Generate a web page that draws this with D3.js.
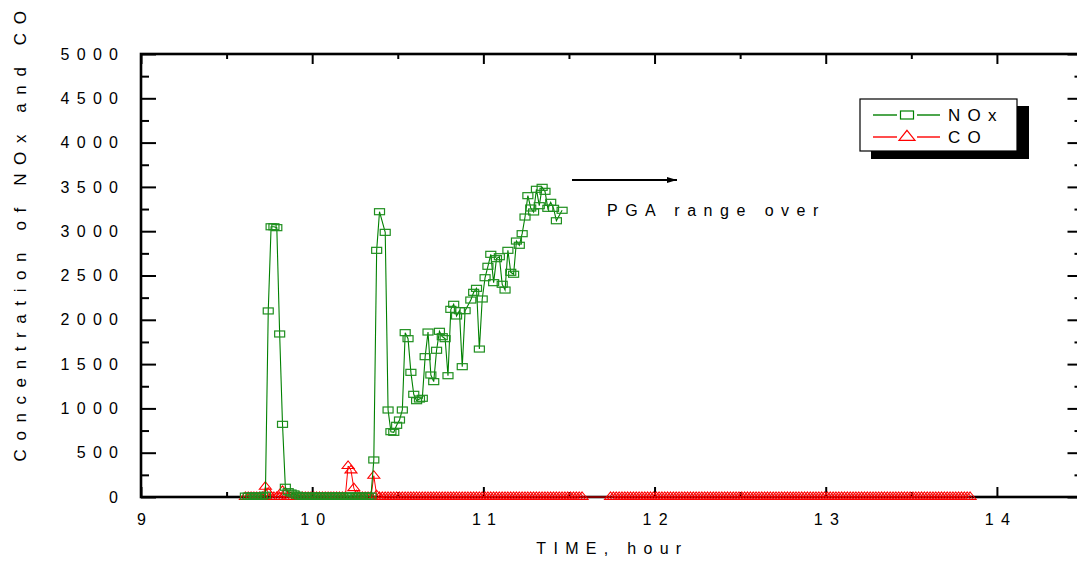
<!DOCTYPE html>
<html><head><meta charset="utf-8">
<script src="https://cdn.jsdelivr.net/npm/d3@7"></script>
<style>
body{margin:0;background:#fff}
svg{display:block}
text{font-family:"Liberation Sans",Arial,sans-serif;fill:#000}
</style>
</head><body>
<svg id="chart" width="1077" height="561"></svg>
<script>
// ---- data ----
const sampleStartHour = 9.61;          // first logged sample (hour)
const sampleStepHour = 1 / 60;         // one sample per minute
const xMajorTicks = [9, 10, 11, 12, 13, 14];
const xMinorTicks = [9.5, 10.5, 11.5, 12.5, 13.5, 14.5];
const yMajorTicks = [0, 500, 1000, 1500, 2000, 2500, 3000, 3500, 4000, 4500, 5000];
const yMinorTicks = [250, 750, 1250, 1750, 2250, 2750, 3250, 3750, 4250, 4750];
const seriesNames = ["NOx", "CO"];
// NOx concentration per sample (null = no sample logged)
const noxValues = [
  10, 10, 10, 10, 10, 10, 10, 20, 2100, 3050,
  3050, 3040, 1840, 820, 110, 60, 45, 35, 20, 10,
  10, 10, 10, 10, 10, 10, 10, 10, 10, 10,
  10, 10, 10, 10, 10, 10, 10, 10, 10, 10,
  10, 10, 10, 10, 10, 418, 2784, 3220, null, 2987,
  982, 737, 730, 809, 869, 982, 1855, 1787, 1407, 1159,
  1087, 1106, 1114, 1584, 1862, 1377, 1302, 1656, 1870, 1809,
  1787, 1369, 2118, 2175, 2043, 2103, 1471, 2103, null, 2223,
  2310, 2355, 1670, 2235, 2475, 2604, 2739, 2419, 2690, 2712,
  2401, 2336, 2784, 2536, 2514, 2889, 2841, 2972, 3160, 3401,
  3262, 3217, 3473, 3288, 3495, 3450, 3258, 3326, 3258, 3118,
  null, 3236
];
// CO concentration per sample (null = no sample logged)
const coValues = [
  0, 0, 0, 0, 0, 0, 0, 116, 48, 0, 0, 0, 0, 70, 30, 0, 0, 0, 0, 0,
  0, 0, 0, 0, 0, 0, 0, 0, 0, 0, 0, 0, 0, 0, 0, 0, 350, 300, 100, 20,
  0, 0, 0, 0, 0, 240, 20, 0, 0, 0, 0, 0, 0, 0, 0, 0, 0, 0, 0, 0,
  0, 0, 0, 0, 0, 0, 0, 0, 0, 0, 0, 0, 0, 0, 0, 0, 0, 0, 0, 0,
  0, 0, 0, 0, 0, 0, 0, 0, 0, 0, 0, 0, 0, 0, 0, 0, 0, 0, 0, 0,
  0, 0, 0, 0, 0, 0, 0, 0, 0, 0, 0, 0, 0, 0, 0, 0, 0, 0, 0, null,
  null, null, null, null, null, null, null, null, 0, 0, 0, 0, 0, 0, 0, 0, 0, 0, 0, 0,
  0, 0, 0, 0, 0, 0, 0, 0, 0, 0, 0, 0, 0, 0, 0, 0, 0, 0, 0, 0,
  0, 0, 0, 0, 0, 0, 0, 0, 0, 0, 0, 0, 0, 0, 0, 0, 0, 0, 0, 0,
  0, 0, 0, 0, 0, 0, 0, 0, 0, 0, 0, 0, 0, 0, 0, 0, 0, 0, 0, 0,
  0, 0, 0, 0, 0, 0, 0, 0, 0, 0, 0, 0, 0, 0, 0, 0, 0, 0, 0, 0,
  0, 0, 0, 0, 0, 0, 0, 0, 0, 0, 0, 0, 0, 0, 0, 0, 0, 0, 0, 0,
  0, 0, 0, 0, 0, 0, 0, 0, 0, 0, 0, 0, 0, 0, 0
];
const annotationText = "PGA range over";
const xTitle = "TIME, hour";
const yTitle = "Concentration of NOx and CO";

// ---- layout ----
const L = 141, R = 1082.5, T = 54, B = 497;
const svg = d3.select("#chart");
const x = d3.scaleLinear().domain([9, 14.5]).range([L, R]);
const y = d3.scaleLinear().domain([0, 5000]).range([B, T]);
const GREEN = "#008000", RED = "#ff0000";
const LS = 7.3; // letter spacing
const fmt = d3.format("d");

function toPoints(vals) {
  return vals.map((v, i) => ({ t: sampleStartHour + i * sampleStepHour, v }))
             .filter(d => d.v !== null);
}

// ---- axes (ticks inward) ----
function styleAxis(g) {
  g.select(".domain").remove();
  g.selectAll(".tick line").attr("stroke", "#000").attr("stroke-width", 2);
}
svg.append("g").attr("transform", `translate(0,${B})`)
  .call(d3.axisBottom(x).tickValues(xMajorTicks).tickFormat(fmt).tickSizeInner(-10).tickSizeOuter(0).tickPadding(17))
  .call(styleAxis)
  .call(g => g.selectAll("text").attr("font-size", 16).attr("letter-spacing", LS)
      .attr("dx", LS / 2).attr("font-family", "Liberation Sans, Arial, sans-serif"));
svg.append("g").attr("transform", `translate(0,${B})`)
  .call(d3.axisBottom(x).tickValues(xMinorTicks).tickSize(-5).tickFormat(""))
  .call(styleAxis);
svg.append("g").attr("transform", `translate(0,${T})`)
  .call(d3.axisTop(x).tickValues(xMajorTicks).tickSize(-10).tickFormat(""))
  .call(styleAxis);
svg.append("g").attr("transform", `translate(0,${T})`)
  .call(d3.axisTop(x).tickValues(xMinorTicks).tickSize(-5).tickFormat(""))
  .call(styleAxis);
svg.append("g").attr("transform", `translate(${L},0)`)
  .call(d3.axisLeft(y).tickValues(yMajorTicks).tickFormat(fmt).tickSizeInner(-15).tickSizeOuter(0).tickPadding(23 - LS))
  .call(styleAxis)
  .call(g => g.selectAll("text").attr("font-size", 16).attr("letter-spacing", LS)
      .attr("font-family", "Liberation Sans, Arial, sans-serif"));
svg.append("g").attr("transform", `translate(${L},0)`)
  .call(d3.axisLeft(y).tickValues(yMinorTicks).tickSize(-8).tickFormat(""))
  .call(styleAxis);
svg.append("g").attr("transform", `translate(${R},0)`)
  .call(d3.axisRight(y).tickValues(yMajorTicks).tickSize(-15).tickFormat(""))
  .call(styleAxis);
svg.append("g").attr("transform", `translate(${R},0)`)
  .call(d3.axisRight(y).tickValues(yMinorTicks).tickSize(-8).tickFormat(""))
  .call(styleAxis);

// frame
svg.append("rect").attr("x", L).attr("y", T).attr("width", R - L).attr("height", B - T)
  .attr("fill", "none").attr("stroke", "#000").attr("stroke-width", 2.6);

// ---- series ----
const line = d3.line().x(d => x(d.t)).y(d => y(d.v));
const coPts = toPoints(coValues);
const noxPts = toPoints(noxValues);
const tri = (w, h) => `M0,${-h * 2 / 3}L${w / 2},${h / 3}L${-w / 2},${h / 3}Z`;

svg.append("path").datum(coPts).attr("d", line)
  .attr("fill", "none").attr("stroke", RED).attr("stroke-width", 1);
svg.append("g").selectAll("path").data(coPts).join("path")
  .attr("transform", d => `translate(${x(d.t)},${y(d.v)})`)
  .attr("d", tri(12, 7.5)).attr("fill", "none").attr("stroke", RED).attr("stroke-width", 1.1);

svg.append("path").datum(noxPts).attr("d", line)
  .attr("fill", "none").attr("stroke", GREEN).attr("stroke-width", 1.1);
svg.append("g").selectAll("rect").data(noxPts).join("rect")
  .attr("x", d => x(d.t) - 5).attr("y", d => y(d.v) - 3)
  .attr("width", 10).attr("height", 6)
  .attr("fill", "none").attr("stroke", "#1f8f1f").attr("stroke-width", 1.2);

// ---- annotation ----
svg.append("defs").append("marker").attr("id", "ah")
  .attr("viewBox", "0 0 10 6").attr("refX", 10).attr("refY", 3)
  .attr("markerWidth", 12).attr("markerHeight", 6).attr("markerUnits", "userSpaceOnUse")
  .attr("orient", "auto")
  .append("path").attr("d", "M0,0L10,3L0,6Z").attr("fill", "#000");
svg.append("line").attr("x1", 572).attr("y1", 180).attr("x2", 677).attr("y2", 180)
  .attr("stroke", "#000").attr("stroke-width", 2).attr("marker-end", "url(#ah)");
svg.append("text").attr("x", 607).attr("y", 216).attr("font-size", 16)
  .attr("letter-spacing", 7.5).text(annotationText);

// ---- titles ----
svg.append("text").attr("x", (L + R) / 2 - 3).attr("y", 554).attr("dx", LS / 2)
  .attr("text-anchor", "middle").attr("font-size", 16).attr("letter-spacing", LS).text(xTitle);
svg.append("text").attr("transform", "translate(26,236) rotate(-90)").attr("dx", 4)
  .attr("text-anchor", "middle").attr("font-size", 17).attr("letter-spacing", 8.6).text(yTitle);

// ---- legend ----
const lg = svg.append("g");
lg.append("rect").attr("x", 871).attr("y", 106).attr("width", 158).attr("height", 53).attr("fill", "#000");
lg.append("rect").attr("x", 860).attr("y", 99).attr("width", 157).attr("height", 52)
  .attr("fill", "#fff").attr("stroke", "#000").attr("stroke-width", 1.2);
const legendRows = [
  { name: seriesNames[0], color: GREEN, cy: 115, base: 121 },
  { name: seriesNames[1], color: RED, cy: 137, base: 143 }
];
legendRows.forEach((r, i) => {
  lg.append("line").attr("x1", 873).attr("x2", 897).attr("y1", r.cy).attr("y2", r.cy)
    .attr("stroke", r.color).attr("stroke-width", 1.4);
  lg.append("line").attr("x1", 917).attr("x2", 940).attr("y1", r.cy).attr("y2", r.cy)
    .attr("stroke", r.color).attr("stroke-width", 1.4);
  if (i === 0) {
    lg.append("rect").attr("x", 900.5).attr("y", r.cy - 4).attr("width", 13).attr("height", 8)
      .attr("fill", "none").attr("stroke", r.color).attr("stroke-width", 1.2);
  } else {
    lg.append("path").attr("transform", `translate(907,${r.cy})`).attr("d", tri(16, 10))
      .attr("fill", "none").attr("stroke", r.color).attr("stroke-width", 1.2);
  }
  lg.append("text").attr("x", 948).attr("y", r.base).attr("font-size", 17)
    .attr("letter-spacing", LS).text(r.name);
});
</script>
</body></html>
